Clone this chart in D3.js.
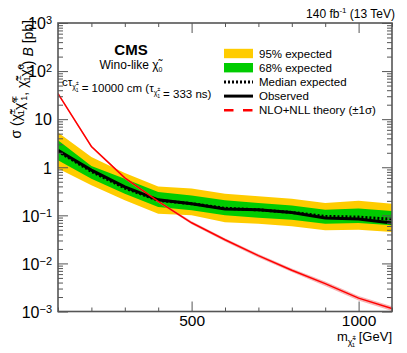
<!DOCTYPE html>
<html>
<head>
<meta charset="utf-8">
<script src="https://cdn.jsdelivr.net/npm/d3@7"></script>
<style>
  body { margin: 0; background: #fff; }
  text { font-family: "Liberation Sans", Arial, sans-serif; }
</style>
</head>
<body>
<div id="chart-area"></div>
<script>
// chargino mass points [GeV]
let mass = [100, 200, 300, 400, 500, 600, 700, 800, 900, 1000, 1100];
// limits [pb]
let observed = [2.26, 0.87, 0.39, 0.21, 0.175, 0.136, 0.13, 0.114, 0.088, 0.084, 0.069];
let expected = [2.15, 0.82, 0.37, 0.205, 0.175, 0.14, 0.13, 0.115, 0.095, 0.092, 0.083];
let exp68Up = [3.65, 1.06, 0.58, 0.306, 0.26, 0.205, 0.18, 0.16, 0.13, 0.138, 0.123];
let exp68Down = [1.40, 0.58, 0.28, 0.149, 0.127, 0.1, 0.089, 0.081, 0.067, 0.069, 0.062];
let exp95Up = [5.3, 1.64, 0.76, 0.40, 0.36, 0.28, 0.249, 0.22, 0.18, 0.2, 0.175];
let exp95Down = [0.94, 0.42, 0.205, 0.108, 0.1, 0.072, 0.067, 0.059, 0.049, 0.05, 0.045];
// NLO+NLL theory
let theory = [34, 2.7, 0.6, 0.195, 0.07, 0.031, 0.0145, 0.0072, 0.0038, 0.0019, 0.00115];
let theoryUp = [36, 2.85, 0.635, 0.207, 0.075, 0.0333, 0.0157, 0.0078, 0.0042, 0.0021, 0.00128];
let theoryDown = [32, 2.55, 0.565, 0.183, 0.065, 0.0287, 0.0133, 0.0066, 0.0034, 0.0017, 0.00102];

let yMajor = [1e-3, 1e-2, 1e-1, 1, 10, 100, 1000];
let yLabels = [["10", "-3"], ["10", "-2"], ["10", "-1"], ["1", ""], ["10", ""], ["10", "2"], ["10", "3"]];
let xMajor = [500, 1000];
let xMinor = [100, 200, 300, 400, 600, 700, 800, 900, 1100];

let legendItems = ["95% expected", "68% expected", "Median expected", "Observed", "NLO+NLL theory (\u00b11\u03c3)"];

let W = 407, H = 353;
let pLeft = 58, pRight = 392, pTop = 23, pBottom = 311.5;

let svg = d3.select('#chart-area')
            .append('svg')
            .attr('width', W)
            .attr('height', H);

let x = d3.scaleLinear()
        .domain([100, 1100])
        .range([pLeft, pRight]);

let y = d3.scaleLog()
        .domain([1e-3, 1e3])
        .range([pBottom, pTop]);

let rows = mass.map(function(m, i){
    return {m: m, obs: observed[i], exp: expected[i],
            u1: exp68Up[i], d1: exp68Down[i], u2: exp95Up[i], d2: exp95Down[i],
            th: theory[i], thu: theoryUp[i], thd: theoryDown[i]};
});

svg.append("clipPath").attr("id", "frame")
   .append("rect").attr("x", pLeft).attr("y", pTop)
   .attr("width", pRight - pLeft).attr("height", pBottom - pTop);

let plot = svg.append("g").attr("clip-path", "url(#frame)");

let band = function(lo, hi){
    return d3.area().x(d => x(d.m)).y0(d => y(d[lo])).y1(d => y(d[hi]));
};

plot.append("path").datum(rows).attr("d", band("d2", "u2")).attr("fill", "#ffcc00");
plot.append("path").datum(rows).attr("d", band("d1", "u1")).attr("fill", "#00cc00");
plot.append("path").datum(rows).attr("d", band("thd", "thu")).attr("fill", "#f08080").attr("opacity", 0.6);

let line = function(key){
    return d3.line().x(d => x(d.m)).y(d => y(d[key]));
};

plot.append("path").datum(rows).attr("d", line("exp"))
    .attr("fill", "none").attr("stroke", "#000").attr("stroke-width", 3)
    .attr("stroke-dasharray", "2,2");
plot.append("path").datum(rows).attr("d", line("obs"))
    .attr("fill", "none").attr("stroke", "#000").attr("stroke-width", 3);
plot.append("path").datum(rows).attr("d", line("th"))
    .attr("fill", "none").attr("stroke", "#ff0000").attr("stroke-width", 1.5);

// axes
let axisColor = "#555";
let styleAxis = function(g){
    g.select(".domain").remove();
    g.selectAll("line").attr("stroke", axisColor).attr("stroke-width", 1);
};

// y minor ticks
let yMinor = [];
for (let e = -3; e < 3; e++) {
    for (let k = 2; k <= 9; k++) yMinor.push(k * Math.pow(10, e));
}

svg.append("g").attr("transform", "translate(" + pLeft + ",0)")
   .call(d3.axisLeft(y).tickValues(yMinor).tickSize(-5).tickFormat(""))
   .call(styleAxis);
svg.append("g").attr("transform", "translate(" + pRight + ",0)")
   .call(d3.axisRight(y).tickValues(yMinor).tickSize(-5).tickFormat(""))
   .call(styleAxis);
svg.append("g").attr("transform", "translate(" + pRight + ",0)")
   .call(d3.axisRight(y).tickValues(yMajor).tickSize(-10).tickFormat(""))
   .call(styleAxis);

let yAxis = svg.append("g").attr("transform", "translate(" + pLeft + ",0)")
   .call(d3.axisLeft(y).tickValues(yMajor).tickSizeInner(-10).tickSizeOuter(0).tickPadding(6))
   .call(styleAxis);

yAxis.selectAll("text").each(function(d, i){
    let t = d3.select(this);
    let lab = yLabels[i];
    t.text(null).attr("font-size", 16).attr("fill", "#000").attr("dy", "0.36em");
    t.append("tspan").text(lab[0]);
    if (lab[1] !== "") {
        t.append("tspan").attr("dy", "-0.45em").attr("font-size", 11).text(lab[1].replace("-", "\u2212"));
    }
});

svg.append("g").attr("transform", "translate(0," + pBottom + ")")
   .call(d3.axisBottom(x).tickValues(xMinor).tickSize(-4).tickFormat(""))
   .call(styleAxis);
svg.append("g").attr("transform", "translate(0," + pTop + ")")
   .call(d3.axisTop(x).tickValues(xMinor).tickSize(-4).tickFormat(""))
   .call(styleAxis);
svg.append("g").attr("transform", "translate(0," + pTop + ")")
   .call(d3.axisTop(x).tickValues(xMajor).tickSize(-10).tickFormat(""))
   .call(styleAxis);

let xAxis = svg.append("g").attr("transform", "translate(0," + pBottom + ")")
   .call(d3.axisBottom(x).tickValues(xMajor).tickFormat(d3.format("d"))
         .tickSizeInner(-10).tickSizeOuter(0).tickPadding(3))
   .call(styleAxis);
xAxis.selectAll("text").attr("font-size", 15.5).attr("fill", "#000");

// frame
svg.append("rect").attr("x", pLeft).attr("y", pTop)
   .attr("width", pRight - pLeft).attr("height", pBottom - pTop)
   .attr("fill", "none").attr("stroke", axisColor).attr("stroke-width", 1.6);

// axis titles
let xt = svg.append("text").attr("x", pRight).attr("y", 341)
   .attr("text-anchor", "end").attr("font-size", 13);
xt.append("tspan").text("m");
xt.append("tspan").attr("dy", 4).attr("font-size", 9).text("\u03c7\u0303");
xt.append("tspan").attr("dy", -6).attr("font-size", 6).text("\u00b1");
xt.append("tspan").attr("dx", -4).attr("dy", 8).attr("font-size", 6).text("1");
xt.append("tspan").attr("dy", -6).text(" [GeV]");

let yt = svg.append("text")
   .attr("transform", "translate(21,20) rotate(-90)")
   .attr("text-anchor", "end").attr("font-size", 14);
let chi = function(t, sup, sub){
    t.append("tspan").text("\u03c7\u0303");
    t.append("tspan").attr("dy", -6).attr("font-size", 9).text(sup);
    t.append("tspan").attr("dx", -6).attr("dy", 9).attr("font-size", 9).text(sub);
    t.append("tspan").attr("dy", -3).text("");
};
yt.append("tspan").text("\u03c3 (");
chi(yt, "\u00b1", "1");
chi(yt, "\u2213", "1");
yt.append("tspan").text(", ");
chi(yt, "\u00b1", "1");
chi(yt, "0", "1");
yt.append("tspan").text(") ");
yt.append("tspan").attr("font-style", "italic").text("B");
yt.append("tspan").text(" [pb]");

// labels
svg.append("text").attr("x", 395).attr("y", 18).attr("text-anchor", "end")
   .attr("font-size", 12).call(function(t){
       t.append("tspan").text("140 fb");
       t.append("tspan").attr("dy", -5).attr("font-size", 8).text("-1");
       t.append("tspan").attr("dy", 5).text(" (13 TeV)");
   });

svg.append("text").attr("x", 131).attr("y", 55).attr("text-anchor", "middle")
   .attr("font-size", 15).attr("font-weight", "bold").text("CMS");

svg.append("text").attr("x", 131).attr("y", 69).attr("text-anchor", "middle")
   .attr("font-size", 12).call(function(t){
       t.append("tspan").text("Wino-like \u03c7\u0303");
       t.append("tspan").attr("dy", 3).attr("font-size", 7).text("0");
   });

let sub = function(t){
    t.append("tspan").attr("dy", 3).attr("font-size", 7).text("\u03c7\u0303");
    t.append("tspan").attr("dy", -4).attr("font-size", 5).text("\u00b1");
    t.append("tspan").attr("dx", -3).attr("dy", 7).attr("font-size", 5).text("1");
    t.append("tspan").attr("dy", -6).text("");
};
let ct = svg.append("text").attr("x", 62).attr("y", 86).attr("font-size", 11.5);
ct.append("tspan").text("c\u03c4");
sub(ct);
ct.append("tspan").text(" = 10000 cm (\u03c4");
sub(ct);
ct.append("tspan").text(" = 333 ns)");

// legend
let lg = svg.append("g");
let rowY = [53.5, 67.7, 81.9, 96.1, 110.3];
lg.append("rect").attr("x", 224).attr("y", rowY[0] - 4.7).attr("width", 29).attr("height", 9.4).attr("fill", "#ffcc00");
lg.append("rect").attr("x", 224).attr("y", rowY[1] - 4.7).attr("width", 29).attr("height", 9.4).attr("fill", "#00cc00");
lg.append("line").attr("x1", 224).attr("x2", 253).attr("y1", rowY[2]).attr("y2", rowY[2])
  .attr("stroke", "#000").attr("stroke-width", 3).attr("stroke-dasharray", "2,2");
lg.append("line").attr("x1", 224).attr("x2", 253).attr("y1", rowY[3]).attr("y2", rowY[3])
  .attr("stroke", "#000").attr("stroke-width", 3);
lg.append("line").attr("x1", 224).attr("x2", 253).attr("y1", rowY[4]).attr("y2", rowY[4])
  .attr("stroke", "#ff0000").attr("stroke-width", 2.5).attr("stroke-dasharray", "9.5,9.5");
lg.selectAll("text.leg").data(legendItems).enter().append("text")
  .attr("class", "leg").attr("x", 259).attr("y", (d, i) => rowY[i] + 4)
  .attr("font-size", 11.5).text(d => d);
</script>
</body>
</html>
